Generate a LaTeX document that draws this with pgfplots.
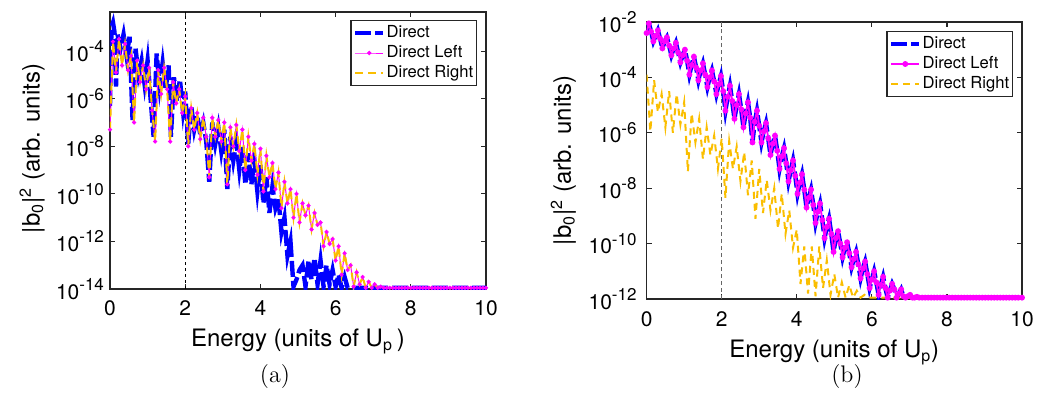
\documentclass[border=0pt]{standalone}
\usepackage{fontspec}
\usepackage{pgfplots}
\usepackage{pgfplotstable}
\pgfplotsset{compat=1.18}
\newfontfamily\helv{TeX Gyre Heros}
\definecolor{myblue}{RGB}{0,0,255}
\definecolor{mymag}{RGB}{255,0,255}
\definecolor{myyel}{RGB}{250,190,0}
\newcommand{\ex}[1]{10\raisebox{4.3pt}{\fontsize{8.5}{9}\selectfont #1}}

% panel (a): Direct
\pgfplotstableread{
x y
0.00 5.0e-7
0.04 1e-3
0.08 1.58e-3
0.12 6.3e-4
0.16 3.2e-6
0.20 5.0e-4
0.28 1.26e-4
0.36 5.0e-4
0.44 6.3e-5
0.52 4.0e-4
0.60 1.26e-7
0.68 1.26e-4
0.76 1e-5
0.84 4.0e-5
0.92 4.0e-6
1.00 4.0e-5
1.08 1e-6
1.16 2.5e-8
1.24 7.9e-5
1.32 3.2e-6
1.40 3.2e-5
1.48 2.5e-6
1.56 2.5e-5
1.62 2.5e-8
1.70 7.9e-6
1.78 7.9e-7
1.86 6.3e-6
1.94 3.2e-7
2.00 2.0e-6
2.08 1.26e-8
2.16 5.0e-7
2.24 5.0e-8
2.32 2.0e-7
2.40 3.2e-8
2.48 1e-7
2.56 1.58e-8
2.64 3.2e-10
2.72 1e-7
2.80 1.26e-8
2.88 6.3e-8
2.96 6.3e-9
3.04 5.0e-8
3.12 1.58e-10
3.20 2.5e-8
3.28 2.5e-9
3.36 1.58e-8
3.44 1e-9
3.52 1e-8
3.60 2.5e-10
3.68 5.0e-9
3.76 2.5e-10
3.84 2.5e-9
3.92 1.26e-10
4.00 1.58e-9
4.08 4.0e-11
4.16 5.0e-10
4.24 1.58e-11
4.32 2.0e-10
4.40 2.5e-11
4.48 6.3e-11
4.56 2.5e-12
4.64 1e-11
4.72 2.5e-13
4.80 1e-12
4.88 1.26e-14
4.96 2.5e-14
5.04 6.3e-14
5.12 1e-13
5.20 1.26e-14
5.28 1.58e-13
5.36 2.5e-14
5.44 2.0e-13
5.52 1.58e-14
5.60 1.58e-13
5.68 1.26e-14
5.76 1e-13
5.84 1.58e-14
5.92 6.3e-14
6.00 1.26e-14
6.08 4.0e-14
6.16 1.12e-14
6.24 3.2e-14
6.32 1.12e-14
6.50 1.12e-14
7.00 1.12e-14
7.50 1.12e-14
8.00 1.12e-14
8.50 1.12e-14
9.00 1.12e-14
9.50 1.12e-14
10.00 1.12e-14
}\DirA

% panel (a): Direct Left / Direct Right (coincide)
\pgfplotstableread{
x y
0.00 5.0e-8
0.08 2.5e-4
0.16 1.26e-5
0.24 3.2e-4
0.32 2.5e-5
0.40 2.0e-4
0.48 1.58e-5
0.56 6.3e-5
0.64 1e-7
0.72 4.0e-5
0.80 5.0e-6
0.88 2.5e-5
0.96 2.5e-6
1.04 2.0e-5
1.12 3.2e-7
1.20 1.58e-8
1.28 1.58e-5
1.36 1.58e-6
1.44 2.0e-5
1.52 2.5e-6
1.60 1.58e-8
1.68 5.0e-6
1.76 6.3e-7
1.84 2.5e-6
1.92 2.5e-7
2.00 1.26e-6
2.08 1e-8
2.16 4.0e-7
2.24 5.0e-8
2.32 2.5e-7
2.40 2.0e-8
2.48 1.58e-7
2.56 2.5e-8
2.64 5.0e-10
2.72 1.58e-7
2.80 2.5e-8
2.88 1.26e-7
2.96 1.58e-8
3.04 1e-7
3.12 2.5e-10
3.20 6.3e-8
3.28 1e-8
3.36 7.9e-8
3.44 6.3e-9
3.52 5.0e-8
3.60 1e-9
3.68 2.5e-8
3.76 2.5e-9
3.84 1.26e-8
3.92 6.3e-10
4.00 7.9e-9
4.08 1.26e-10
4.16 4.0e-9
4.24 5.0e-10
4.32 2.0e-9
4.40 1.58e-10
4.48 7.9e-10
4.56 2.5e-11
4.64 3.2e-10
4.72 4.0e-11
4.80 1.58e-10
4.88 1e-11
4.96 1e-10
5.04 6.3e-12
5.12 4.0e-11
5.20 1.26e-11
5.28 3.2e-11
5.36 3.2e-12
5.44 1.58e-11
5.52 5.0e-12
5.60 6.3e-12
5.68 6.3e-13
5.76 2.5e-12
5.84 7.9e-13
5.92 1.26e-12
6.00 1.58e-13
6.08 6.3e-13
6.16 4.0e-14
6.24 3.2e-13
6.32 6.3e-14
6.40 1e-13
6.48 1.26e-14
6.56 5.0e-14
6.64 1.58e-14
6.72 3.2e-14
6.80 1.12e-14
6.88 2.0e-14
6.96 1.12e-14
7.04 1.58e-14
7.12 1.12e-14
7.20 1.26e-14
7.28 1.12e-14
7.36 1.12e-14
7.44 1.12e-14
7.52 1.12e-14
7.60 1.12e-14
7.68 1.12e-14
7.76 1.12e-14
7.84 1.12e-14
7.92 1.12e-14
8.00 1.12e-14
8.08 1.12e-14
8.16 1.12e-14
8.24 1.12e-14
8.32 1.12e-14
8.40 1.12e-14
8.48 1.12e-14
8.56 1.12e-14
8.64 1.12e-14
8.72 1.12e-14
8.80 1.12e-14
8.88 1.12e-14
8.96 1.12e-14
9.04 1.12e-14
9.12 1.12e-14
9.20 1.12e-14
9.28 1.12e-14
9.36 1.12e-14
9.44 1.12e-14
9.52 1.12e-14
9.60 1.12e-14
9.68 1.12e-14
9.76 1.12e-14
9.84 1.12e-14
9.92 1.12e-14
10.00 1.12e-14
}\LeftA

% panel (b): Direct / Direct Left (coincide)
\pgfplotstableread{
x y
0.00 4.0e-3
0.06 8.9e-3
0.12 4.5e-3
0.18 2.0e-3
0.24 3.2e-3
0.30 5.0e-3
0.36 2.5e-3
0.42 1.12e-3
0.48 2.0e-3
0.54 2.8e-3
0.60 1.41e-3
0.66 6.3e-4
0.72 1.12e-3
0.78 1.78e-3
0.84 7.9e-4
0.90 3.5e-4
0.96 6.3e-4
1.02 1.0e-3
1.08 4.0e-4
1.14 1.26e-4
1.20 2.8e-4
1.26 5.6e-4
1.32 2.24e-4
1.38 7.9e-5
1.44 1.78e-4
1.50 3.2e-4
1.56 1.26e-4
1.62 4.5e-5
1.68 1.0e-4
1.74 1.78e-4
1.80 7.1e-5
1.86 2.5e-5
1.92 5.6e-5
1.98 1.12e-4
2.04 3.2e-5
2.10 6.3e-6
2.16 2.0e-5
2.22 5.0e-5
2.28 1.41e-5
2.34 3.2e-6
2.40 1.0e-5
2.46 2.5e-5
2.52 7.1e-6
2.58 1.58e-6
2.64 5.0e-6
2.70 1.26e-5
2.76 3.5e-6
2.82 4.5e-7
2.88 2.5e-6
2.94 6.3e-6
3.00 1.78e-6
3.06 4.5e-7
3.12 1.12e-6
3.18 2.24e-6
3.24 6.3e-7
3.30 1.58e-7
3.36 4.0e-7
3.42 7.9e-7
3.48 2.24e-7
3.54 5.0e-8
3.60 1.41e-7
3.66 2.8e-7
3.72 7.9e-8
3.78 1.78e-8
3.84 4.5e-8
3.90 1.0e-7
3.96 2.8e-8
4.02 6.3e-9
4.08 1.58e-8
4.14 3.2e-8
4.20 8.9e-9
4.26 2.0e-9
4.32 4.5e-9
4.38 8.9e-9
4.44 2.5e-9
4.50 5.6e-10
4.56 1.41e-9
4.62 2.8e-9
4.68 7.1e-10
4.74 1.58e-10
4.80 4.0e-10
4.86 7.9e-10
4.92 2.24e-10
4.98 5.0e-11
5.04 1.58e-10
5.10 2.8e-10
5.16 1.0e-10
5.22 3.2e-11
5.28 7.1e-11
5.34 1.12e-10
5.40 4.5e-11
5.46 1.41e-11
5.52 2.8e-11
5.58 5.0e-11
5.64 1.78e-11
5.70 5.6e-12
5.76 1.26e-11
5.82 2.24e-11
5.88 7.9e-12
5.94 2.5e-12
6.00 5.0e-12
6.06 1.0e-11
6.12 4.0e-12
6.18 1.41e-12
6.24 3.2e-12
6.30 6.3e-12
6.36 2.5e-12
6.42 1.12e-12
6.48 2.0e-12
6.54 3.5e-12
6.60 2.24e-12
6.66 1.12e-12
6.72 1.58e-12
6.78 2.24e-12
6.84 1.26e-12
6.90 1.12e-12
6.96 1.26e-12
7.02 1.41e-12
7.08 1.12e-12
7.14 1.12e-12
7.20 1.2e-12
7.26 1.12e-12
7.34 1.12e-12
7.42 1.12e-12
7.50 1.12e-12
7.58 1.12e-12
7.66 1.12e-12
7.74 1.12e-12
7.82 1.12e-12
7.90 1.12e-12
7.98 1.12e-12
8.06 1.12e-12
8.14 1.12e-12
8.22 1.12e-12
8.30 1.12e-12
8.38 1.12e-12
8.46 1.12e-12
8.54 1.12e-12
8.62 1.12e-12
8.70 1.12e-12
8.78 1.12e-12
8.86 1.12e-12
8.94 1.12e-12
9.02 1.12e-12
9.10 1.12e-12
9.18 1.12e-12
9.26 1.12e-12
9.34 1.12e-12
9.42 1.12e-12
9.50 1.12e-12
9.58 1.12e-12
9.66 1.12e-12
9.74 1.12e-12
9.82 1.12e-12
9.90 1.12e-12
10.00 1.12e-12
}\DirB

% panel (b): Direct Right
\pgfplotstableread{
x y
0.0 1.26e-4
0.1 1.12e-6
0.2 7.9e-5
0.3 5.6e-6
0.4 2.5e-5
0.5 1.58e-6
0.6 3.2e-5
0.7 1e-6
0.8 2.5e-5
0.9 2.0e-6
1.0 1.26e-5
1.1 4.0e-8
1.2 5.0e-6
1.3 4.5e-7
1.4 3.2e-6
1.5 1.12e-7
1.6 1.58e-6
1.7 1.58e-7
1.8 7.9e-7
1.9 5.0e-8
2.0 6.3e-7
2.1 4.5e-9
2.2 5.0e-7
2.3 5.0e-8
2.4 3.2e-7
2.5 1.78e-8
2.6 2.0e-7
2.7 5.6e-9
2.8 1e-7
2.9 7.9e-10
3.0 5.0e-8
3.1 1.26e-9
3.2 2.0e-8
3.3 1.58e-9
3.4 1e-8
3.5 3.5e-10
3.6 6.3e-9
3.7 2.24e-10
3.8 1.58e-9
3.9 7.1e-11
4.0 3.2e-10
4.1 3.5e-12
4.2 7.9e-11
4.3 1.58e-12
4.4 7.9e-11
4.5 1.26e-12
4.6 7.9e-11
4.7 2.5e-12
4.8 2.5e-11
4.9 1.41e-12
5.0 7.9e-12
5.1 1.12e-12
5.2 4.0e-12
5.3 1.12e-12
5.4 3.2e-12
5.5 1.12e-12
5.6 2.0e-12
5.7 1.12e-12
5.8 1.41e-12
5.9 1.12e-12
6.0 1.12e-12
6.5 1.12e-12
7.0 1.12e-12
7.5 1.12e-12
8.0 1.12e-12
8.5 1.12e-12
9.0 1.12e-12
9.5 1.12e-12
10.0 1.12e-12
}\RightB

\begin{document}
\begin{tikzpicture}
\useasboundingbox (0,0) rectangle (519pt,196pt);

% ---------------- panel (a)
\begin{axis}[
  at={(55pt,51.5pt)}, anchor=south west,
  scale only axis, width=188pt, height=138.5pt,
  ymode=log, xmin=0, xmax=10, xtick={0,2,4,6,8,10},
  ymin=1e-14, ymax=4.4e-3,
  ytick={1e-14,1e-12,1e-10,1e-8,1e-6,1e-4},
  yticklabels={\ex{-14},\ex{-12},\ex{-10},\ex{-8},\ex{-6},\ex{-4}},
  tick align=inside, major tick length=2.5pt,
  yminorticks=false, xminorticks=false,
  axis line style={black!85, line width=0.6pt},
  every tick/.style={black!85, line width=0.6pt},
  xticklabel style={font=\helv\fontsize{10.5}{12}\selectfont, yshift=-2.5pt, /pgf/number format/assume math mode=true},
  yticklabel style={font=\helv\fontsize{10.5}{12}\selectfont, xshift=0.5pt},
  xlabel={Energy (units of U\textsubscript{p}\,)},
  ylabel={|b\textsubscript{0}|\textsuperscript{2} (arb. units)},
  xlabel style={at={(axis description cs:0.5,0)}, anchor=north, yshift=-20pt, inner sep=0pt, font=\helv\fontsize{12}{14}\selectfont},
  ylabel style={at={(axis description cs:-0.207,0.507)}, anchor=center, inner sep=0pt, font=\helv\fontsize{12}{14}\selectfont},
  legend style={font=\helv\fontsize{8.3}{10}\selectfont, draw=black!85, line width=0.6pt, inner xsep=1pt, inner ysep=1.2pt, anchor=north east, at={(1,1)}, xshift=-4.5pt, yshift=-4pt, nodes={inner sep=0.6pt, text height=6.8pt, text depth=2pt}},
  legend cell align=left,
  legend image code/.code={\draw[#1,mark repeat=2,mark phase=2] plot coordinates {(0pt,0pt) (7pt,0pt) (14pt,0pt)};},
]
\addplot[black, line width=0.4pt, dash pattern=on 1.5pt off 1.5pt, forget plot] coordinates {(2,1e-14) (2,4.4e-3)};
\addplot[myblue, line width=2.2pt, dash pattern=on 8pt off 2pt] table[x=x,y=y] {\DirA};
\addlegendentry{Direct}
\addplot[mymag, line width=0.5pt, mark=*, mark size=0.8pt, mark options={solid}] table[x=x,y=y] {\LeftA};
\addlegendentry{Direct Left}
\addplot[myyel, line width=1pt, dash pattern=on 4pt off 2.5pt] table[x=x,y=y] {\LeftA};
\addlegendentry{Direct Right}
\end{axis}

% ---------------- panel (b)
\begin{axis}[
  at={(323.3pt,46.5pt)}, anchor=south west,
  scale only axis, width=187.7pt, height=138.5pt,
  ymode=log, xmin=0, xmax=10, xtick={0,2,4,6,8,10},
  ymin=1e-12, ymax=1e-2,
  ytick={1e-12,1e-10,1e-8,1e-6,1e-4,1e-2},
  yticklabels={\ex{-12},\ex{-10},\ex{-8},\ex{-6},\ex{-4},\ex{-2}},
  tick align=inside, major tick length=2.5pt,
  yminorticks=false, xminorticks=false,
  axis line style={black!85, line width=0.6pt},
  every tick/.style={black!85, line width=0.6pt},
  xticklabel style={font=\helv\fontsize{10.5}{12}\selectfont, yshift=-3pt, /pgf/number format/assume math mode=true},
  yticklabel style={font=\helv\fontsize{10.5}{12}\selectfont, xshift=-1.5pt},
  xlabel={Energy (units of U\textsubscript{p})},
  ylabel={|b\textsubscript{0}|\textsuperscript{2} (arb. units)},
  xlabel style={at={(axis description cs:0.5,0)}, anchor=north, yshift=-20.5pt, inner sep=0pt, font=\helv\fontsize{12}{14}\selectfont},
  ylabel style={at={(axis description cs:-0.2215,0.5)}, anchor=center, inner sep=0pt, font=\helv\fontsize{12}{14}\selectfont},
  legend style={font=\helv\fontsize{8.3}{10}\selectfont, draw=black!85, line width=0.6pt, inner xsep=1pt, inner ysep=1.2pt, anchor=north east, at={(1,1)}, xshift=-4.5pt, yshift=-4.5pt, nodes={inner sep=0.6pt, text height=6.8pt, text depth=2pt}},
  legend cell align=left,
  legend image code/.code={\draw[#1,mark repeat=2,mark phase=2] plot coordinates {(0pt,0pt) (7pt,0pt) (14pt,0pt)};},
]
\addplot[black!60, line width=0.6pt, dash pattern=on 2pt off 1.5pt, forget plot] coordinates {(2,1e-12) (2,1e-2)};
\addplot[myblue, line width=2.2pt, dash pattern=on 8pt off 2pt] table[x=x,y=y] {\DirB};
\addlegendentry{Direct}
\addplot[mymag, line width=0.9pt, mark=*, mark size=1pt, mark options={solid}] table[x=x,y=y] {\DirB};
\addlegendentry{Direct Left}
\addplot[myyel, line width=1pt, dash pattern=on 3.5pt off 2.5pt] table[x=x,y=y] {\RightB};
\addlegendentry{Direct Right}
\end{axis}

\node[font=\fontsize{12}{14}\selectfont] at (137.5pt,7.5pt) {(a)};
\node[font=\fontsize{12}{14}\selectfont] at (423.5pt,7.5pt) {(b)};
\end{tikzpicture}
\end{document}
